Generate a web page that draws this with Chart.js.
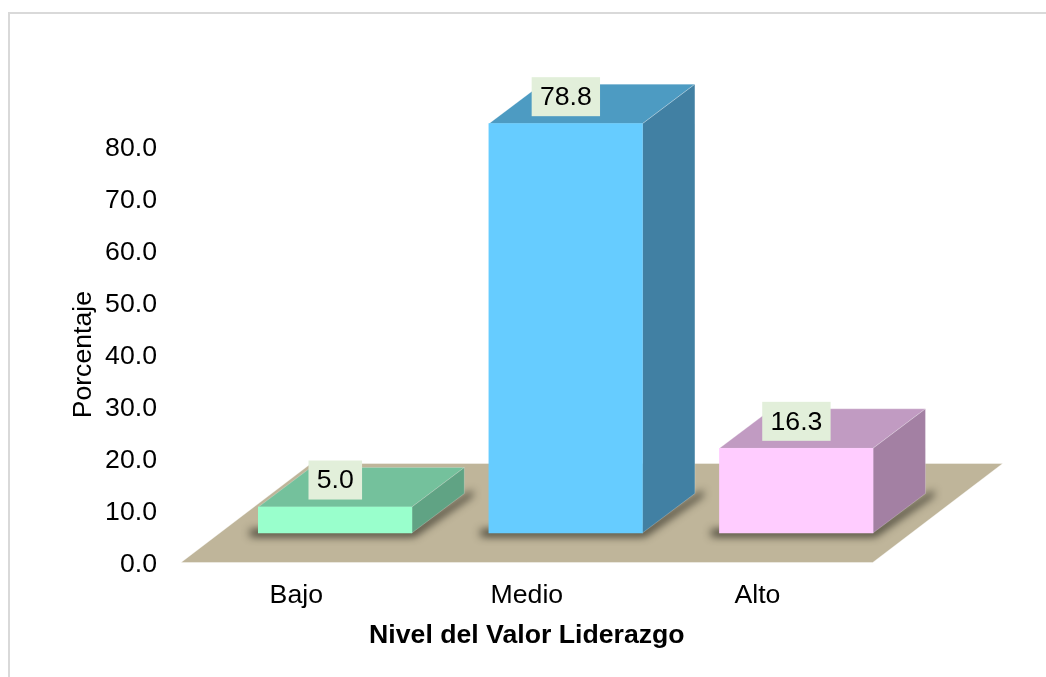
<!DOCTYPE html>
<html lang="es">
<head>
<meta charset="utf-8">
<title>Nivel del Valor Liderazgo</title>
<script src="https://cdn.jsdelivr.net/npm/chart.js@4"></script>
<style>
html,body{margin:0;padding:0;background:#fff;overflow:hidden}
canvas{display:block}
</style>
</head>
<body>
<canvas id="c" width="1046" height="677"></canvas>
<script>
const categories = ["Bajo", "Medio", "Alto"];
const percentages = [5.0, 78.8, 16.3];
const frontColors = ["#99FFCC", "#66CCFF", "#FFCCFF"];
const topColors = ["#74C19C", "#4D9BC2", "#C19BC2"];
const sideColors = ["#60A384", "#4180A3", "#A380A3"];
const yAxisTitle = "Porcentaje";
const xAxisTitle = "Nivel del Valor Liderazgo";
const FONT = '"Liberation Sans", Arial, sans-serif';
const FS = 26.67;

// 3D projection constants (pixels)
const floorLift = 2;                 // floor front edge above the zero pixel
const floorDX = 130, floorDY = 99;   // floor depth
const shiftX = 38.8, shiftY = 31.5;  // bars stand part-way back on the floor
const depthX = 52.5, depthY = 39.5;  // depth of each bar

function poly(ctx, pts, fill, stroke) {
  ctx.beginPath();
  pts.forEach((p, i) => i ? ctx.lineTo(p[0], p[1]) : ctx.moveTo(p[0], p[1]));
  ctx.closePath();
  ctx.fillStyle = fill;
  ctx.fill();
  if (stroke) { ctx.strokeStyle = stroke; ctx.lineWidth = 1; ctx.stroke(); }
}

const scene = {
  id: "scene",
  beforeDraw(chart) {
    const ctx = chart.ctx;
    ctx.save();
    ctx.strokeStyle = "#D9D9D9";
    ctx.lineWidth = 2;
    ctx.beginPath();
    ctx.moveTo(9, chart.height);
    ctx.lineTo(9, 13);
    ctx.lineTo(chart.width, 13);
    ctx.stroke();
    ctx.restore();
  },
  beforeDatasetsDraw(chart) {
    const ctx = chart.ctx, a = chart.chartArea;
    ctx.save();
    const y0 = chart.scales.y.getPixelForValue(0) - floorLift;
    poly(ctx, [[a.left, y0], [a.right, y0], [a.right + floorDX, y0 - floorDY], [a.left + floorDX, y0 - floorDY]],
      "#BFB59A", "rgba(255,255,255,.35)");
    const els = chart.getDatasetMeta(0).data;
    els.forEach((el, i) => {
      const x0 = el.x - el.width / 2 + shiftX, x1 = el.x + el.width / 2 + shiftX;
      const top = el.y - shiftY, base = el.base - shiftY;
      // contact shadow: only the blurred shadow of an off-canvas shape lands on the floor
      ctx.save();
      const off = 3000;
      ctx.shadowColor = "rgba(40,38,28,1)";
      ctx.shadowBlur = 9;
      ctx.shadowOffsetX = off;
      const pts = [[x0 - 8, base - 3], [x1, base - 3], [x1 + depthX + 8, base - depthY - 3],
                   [x1 + depthX + 8, base - depthY + 2], [x1 + 2, base + 3], [x0 - 8, base + 3]];
      poly(ctx, pts.map(p => [p[0] - off, p[1]]), "#000");
      ctx.restore();
      // top and side faces
      poly(ctx, [[x0, top], [x1, top], [x1 + depthX, top - depthY], [x0 + depthX, top - depthY]],
        topColors[i], "rgba(255,255,255,.22)");
      poly(ctx, [[x1, top], [x1 + depthX, top - depthY], [x1 + depthX, base - depthY], [x1, base]],
        sideColors[i], "rgba(255,255,255,.22)");
    });
    ctx.restore();
  },
  beforeDatasetDraw(chart) {
    chart.ctx.save();
    chart.ctx.translate(shiftX, -shiftY);
  },
  afterDatasetDraw(chart) {
    chart.ctx.restore();
  },
  afterDatasetsDraw(chart) {
    const ctx = chart.ctx;
    ctx.save();
    ctx.font = FS + "px " + FONT;
    ctx.textAlign = "center";
    ctx.textBaseline = "middle";
    chart.getDatasetMeta(0).data.forEach((el, i) => {
      const txt = percentages[i].toFixed(1);
      const w = ctx.measureText(txt).width + 16.5;
      const cx = el.x + shiftX + 0.2, cy = el.y - shiftY - 27;
      ctx.fillStyle = "#E2EFDA";
      ctx.fillRect(cx - w / 2, cy - 19.5, w, 39);
      ctx.fillStyle = "#000";
      ctx.fillText(txt, cx, cy + 1);
    });
    ctx.restore();
  }
};

new Chart(document.getElementById("c"), {
  type: "bar",
  data: {
    labels: categories,
    datasets: [{
      data: percentages,
      backgroundColor: frontColors,
      borderWidth: 0,
      barThickness: 153.5,
      clip: false
    }]
  },
  options: {
    responsive: false,
    animation: false,
    layout: { padding: { top: 144.8, right: 173.3, left: 0, bottom: 0 } },
    plugins: { legend: { display: false }, tooltip: { enabled: false } },
    scales: {
      x: {
        grid: { display: false, drawTicks: false },
        border: { display: false },
        ticks: { color: "#000", font: { family: FONT, size: FS }, padding: 15, maxRotation: 0 },
        title: {
          display: true, text: xAxisTitle, color: "#000",
          font: { family: FONT, size: FS, weight: "bold" },
          padding: { top: 0, bottom: 25.5 }
        },
        afterFit(s) { s.height = 112.5; }
      },
      y: {
        min: 0, max: 80.8,
        grid: { display: false, drawTicks: false },
        border: { display: false },
        ticks: {
          stepSize: 10, color: "#000", padding: 24, includeBounds: false,
          font: { family: FONT, size: FS },
          callback: v => v.toFixed(1)
        },
        title: {
          display: true, text: yAxisTitle, color: "#000",
          font: { family: FONT, size: FS },
          padding: { top: 68, bottom: 0 }
        },
        afterFit(s) { s.width = 181; }
      }
    }
  },
  plugins: [scene]
});
</script>
</body>
</html>
